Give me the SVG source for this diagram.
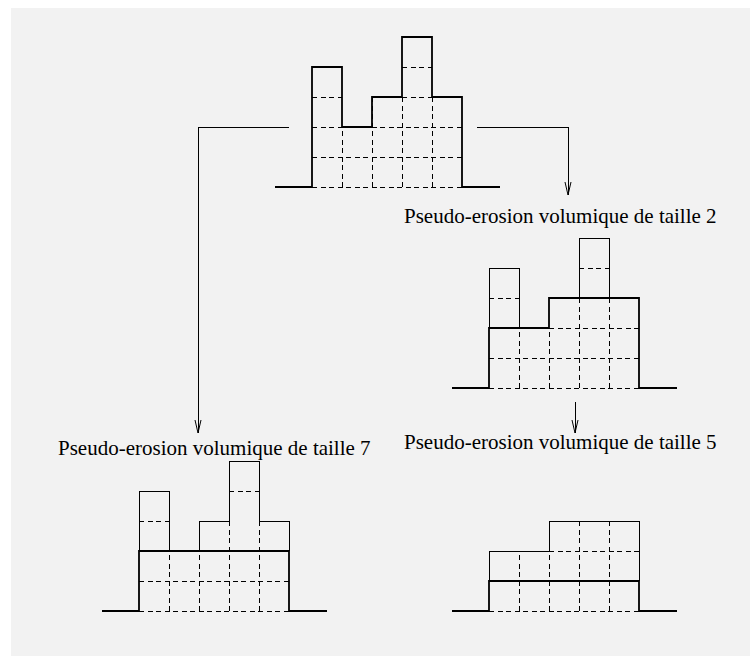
<svg xmlns="http://www.w3.org/2000/svg" width="750" height="656" viewBox="0 0 750 656">
<defs>
<style>
.bg{fill:#f2f2f2}
.dash{fill:none;stroke:#000;stroke-width:1;stroke-dasharray:5,3.5;shape-rendering:crispEdges}
.thin{fill:none;stroke:#000;stroke-width:1;shape-rendering:crispEdges}
.thick{fill:none;stroke:#000;stroke-width:1.8}
.conn{fill:none;stroke:#000;stroke-width:1;shape-rendering:crispEdges}
.lbl{font-family:"Liberation Serif","Times New Roman",serif;font-size:21px;fill:#000}
</style>
<marker id="arrow" markerUnits="userSpaceOnUse" markerWidth="16" markerHeight="10" viewBox="-15 -5 16 10" refX="0" refY="0" orient="auto">
<path d="M-13,-3 L0,0 L-13,3" fill="none" stroke="#000" stroke-width="1"/>
</marker>
</defs>
<rect class="bg" x="11" y="8" width="739" height="648"/>

<g id="original">
<path class="thick" d="M275,187 H312 M462,187 H500"/>
<path class="dash" d="M312,187 H462 M312,157 H462 M312,127 H462 M312,97 H342 M402,97 H432 M402,67 H432 M342,187 V127 M372,187 V97 M402,187 V97 M432,187 V97"/>
<path class="thick" d="M312,187 V67 H342 V127 H372 V97 H402 V37 H432 V97 H462 V187"/>
</g>

<g id="erosion2">
<path class="thick" d="M452,388 H489 M639,388 H677"/>
<path class="dash" d="M489,388 H639 M489,358 H639 M549,328 H639 M489,298 H519 M579,268 H609 M519,388 V328 M549,388 V328 M579,388 V298 M609,388 V298"/>
<path class="thin" d="M489,328 V268 H519 V328 M579,298 V238 H609 V298"/>
<path class="thick" d="M489,388 V328 H549 V298 H639 V388"/>
<text class="lbl" x="404" y="223">Pseudo-erosion volumique de taille 2</text>
</g>

<g id="erosion7">
<path class="thick" d="M102,611 H139 M289,611 H327"/>
<path class="dash" d="M139,611 H289 M139,581 H289 M139,521 H169 M229,491 H259 M169,611 V551 M199,611 V551 M229,611 V521 M259,611 V521"/>
<path class="thin" d="M139,551 V491 H169 V551 M199,551 V521 H229 V461 H259 V521 H289 V551"/>
<path class="thick" d="M139,611 V551 H289 V611"/>
<text class="lbl" x="58" y="455">Pseudo-erosion volumique de taille 7</text>
</g>

<g id="erosion5">
<path class="thick" d="M452,611 H489 M639,611 H677"/>
<path class="dash" d="M489,611 H639 M549,551 H639 M519,611 V551 M549,611 V551 M579,611 V521 M609,611 V521"/>
<path class="thin" d="M489,581 V551 H549 V521 H639 V581"/>
<path class="thick" d="M489,611 V581 H639 V611"/>
<text class="lbl" x="404" y="449">Pseudo-erosion volumique de taille 5</text>
</g>

<g id="connectors">
<path class="conn" d="M289,127 H198 V433" marker-end="url(#arrow)"/>
<path class="conn" d="M477,127 H568 V195" marker-end="url(#arrow)"/>
<path class="conn" d="M575,402 V433" marker-end="url(#arrow)"/>
</g>
</svg>
